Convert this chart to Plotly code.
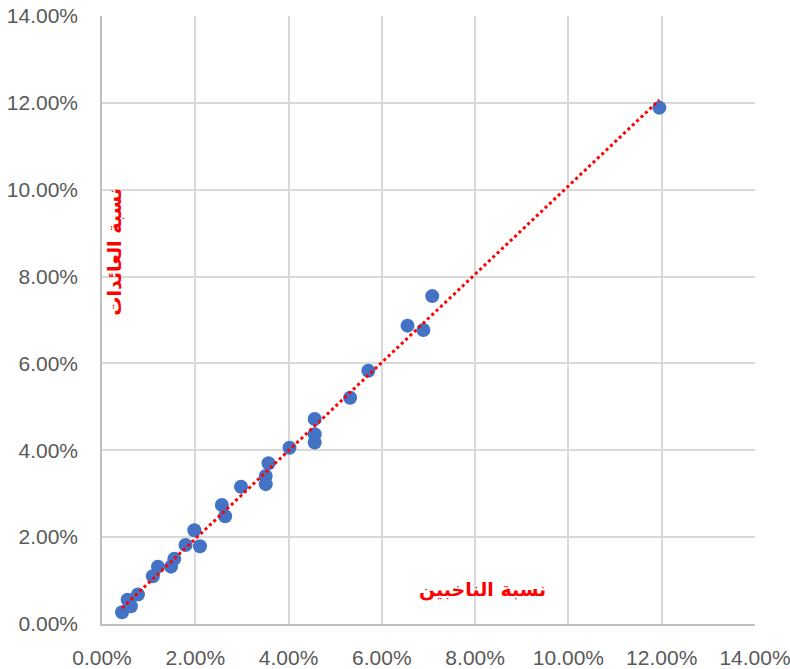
import numpy as np
import plotly.graph_objects as go

# Share of voters (x) vs share of revenues (y), as fractions
voters = [0.0043, 0.0062, 0.0055, 0.0077, 0.0109, 0.0120, 0.0148, 0.0155, 0.0179,
          0.0198, 0.0210, 0.0257, 0.0264, 0.0298, 0.0351, 0.0351, 0.0357, 0.0402,
          0.0456, 0.0456, 0.0456, 0.0532, 0.0571, 0.0655, 0.0689, 0.0708, 0.1195]
revenues = [0.0027, 0.0041, 0.0056, 0.0068, 0.0110, 0.0132, 0.0132, 0.0150, 0.0182,
            0.0216, 0.0179, 0.0274, 0.0248, 0.0316, 0.0322, 0.0341, 0.0370, 0.0406,
            0.0472, 0.0437, 0.0418, 0.0521, 0.0583, 0.0687, 0.0677, 0.0755, 0.1189]

x_title = "نسبة الناخبين"
y_title = "نسبة العائدات"
tick_vals = [0.00, 0.02, 0.04, 0.06, 0.08, 0.10, 0.12, 0.14]

# Linear trendline fitted to the points
slope, intercept = np.polyfit(voters, revenues, 1)
trend_x = np.array([min(voters), max(voters)])
trend_y = slope * trend_x + intercept

fig = go.Figure()
fig.add_trace(go.Scatter(
    x=voters, y=revenues, mode="markers",
    marker=dict(color="#4472C4", size=14),
    showlegend=False, hoverinfo="x+y",
))
fig.add_trace(go.Scatter(
    x=trend_x, y=trend_y, mode="lines",
    line=dict(color="#FF0000", width=3, dash="dot"),
    showlegend=False, hoverinfo="skip",
))

axis_common = dict(
    range=[0, 0.14], tickvals=tick_vals, tickformat=".2%",
    showgrid=True, gridcolor="#D9D9D9", gridwidth=1.5,
    zeroline=False, showline=True, linecolor="#BFBFBF", linewidth=1.5,
    ticks="", automargin=False, ticklabeloverflow="allow",
    tickfont=dict(family="Liberation Sans, Arial", size=21, color="#595959"),
)

fig.update_layout(
    width=790, height=669,
    margin=dict(l=102, r=35, t=16, b=45),
    paper_bgcolor="white", plot_bgcolor="white",
    xaxis=dict(**axis_common, ticklabelstandoff=14),
    yaxis=dict(**axis_common, ticklabelstandoff=18),
    annotations=[
        dict(text="<b>" + x_title + "</b>", xref="paper", yref="paper",
             x=0.582, y=0.056, xanchor="center", yanchor="middle",
             showarrow=False, font=dict(family="DejaVu Sans", size=19, color="#FF0000")),
        dict(text="<b>" + y_title + "</b>", xref="paper", yref="paper",
             x=0.018, y=0.612, xanchor="center", yanchor="middle",
             showarrow=False, textangle=-90,
             font=dict(family="DejaVu Sans", size=19, color="#FF0000")),
    ],
)

fig.write_html("out.html")
